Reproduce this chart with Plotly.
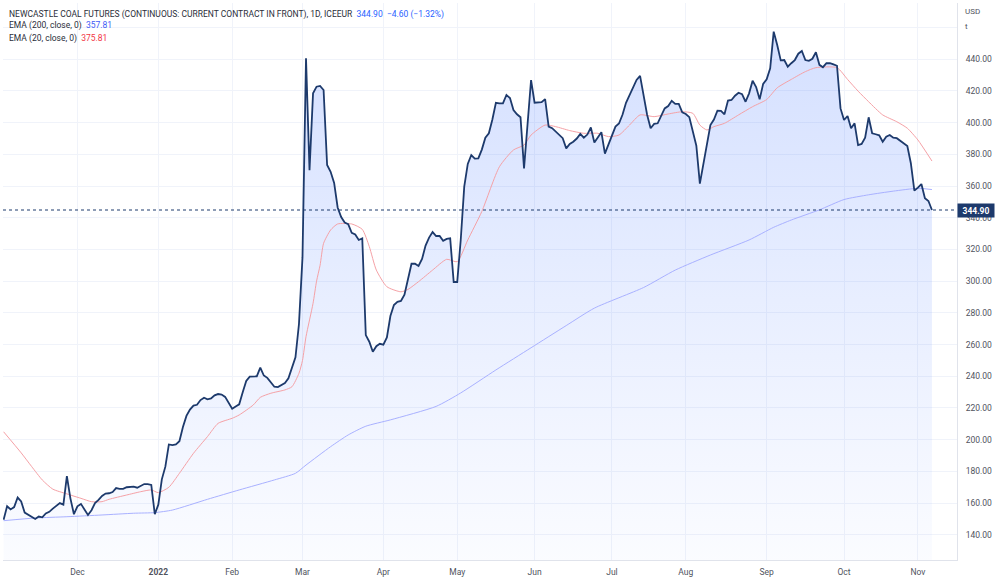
import plotly.graph_objects as go
import pandas as pd

# ---------------- data ----------------
start_date = "2021-11-02"
end_date = "2022-11-07"

close_nov21 = [149.5, 158, 156, 157.5, 163.5, 161, 154, 152.5, 151, 150, 151.5, 151, 153.5, 154.5,
               156.5, 158.5, 160, 159, 177, 163, 153]
close_dec21 = [158, 159.5, 156, 152.5, 155.5, 160, 162, 164.5, 166, 166.2, 167, 169.5, 169, 169, 170,
               170.4, 170.4, 169.7, 171, 172, 172, 171.5, 153]
close_jan22 = [159, 175, 183, 197, 196.6, 197, 199, 208, 215, 219, 221.5, 222, 225, 226.5, 225.5, 226,
               228, 228.8, 228.5, 227, 223]
close_feb22 = [219.5, 221, 222.3, 230, 237, 239.8, 239.8, 240, 245.5, 240.5, 239, 236, 233.4, 233.2,
               234.5, 235.7, 238.7, 245, 252, 273]
close_mar22 = [315, 440.6, 370, 418.5, 422.7, 423.2, 420.6, 373.3, 369, 362, 346.5, 340.5, 337, 336,
               330.5, 329.5, 326, 327, 266, 261.8, 255.5, 259, 260.5]
close_apr22 = [260, 264.5, 278, 285, 287, 287.5, 291.5, 302, 311, 311, 309.6, 314, 322.5, 327.5, 331,
               328.5, 328.5, 325.5, 326.7, 327, 299.5]
close_may22 = [299.5, 326, 359.6, 374, 379.6, 377.3, 377.5, 383, 390.5, 393.3, 402, 412.5, 412.2, 412.2,
               417.5, 415.5, 408, 405.3, 403.4, 371.2, 399, 426.9]
close_jun22 = [412.6, 412.6, 412.9, 414.9, 397.5, 396.5, 394.5, 392.3, 390.2, 383.8, 386.6, 388, 390,
               392.9, 390.5, 392.5, 397, 387.5, 391, 394, 380.5, 386]
close_jul22 = [391, 397.5, 399.5, 405, 412.5, 417, 422.5, 427, 429.5, 416.5, 405, 396.5, 399.2, 399.6,
               404, 409, 410.5, 413.8, 411.8, 411.8, 406.5]
close_aug22 = [405.5, 403.5, 394, 385.5, 361.5, 373, 386, 398.5, 402, 407.6, 407.5, 405.3, 413.9, 414.3,
               417, 418.9, 418, 413.2, 418.5, 426.5, 422.5, 414.7, 424.5]
close_sep22 = [427.4, 434.3, 457.4, 449, 439.3, 439.5, 435.3, 437.5, 439.5, 443.5, 445.2, 439.5, 439,
               440.3, 444.4, 436.5, 435, 437.5, 437.6, 436.8, 435.9, 409]
close_oct22 = [401.7, 404.2, 396.5, 399.6, 385.9, 386.6, 390.5, 403.4, 393.3, 392.7, 392, 388, 391.2,
               392.2, 390.5, 390.2, 388.4, 386.6, 385.3, 374.4, 357.1]
close_nov22 = [359, 361.3, 352.3, 350.6, 344.9]

# EMA lines read at selected bars (bar index into the trading-day list)
ema20_idx = [0, 5, 8, 11, 14, 18, 22, 25, 28, 30, 35, 39, 42, 44, 47, 50, 54, 58, 61, 65,
             67, 71, 73, 76, 80, 82, 84, 85, 86, 88, 89, 90, 91, 93, 95, 99, 102, 104, 106, 109,
             113, 115, 118, 122, 126, 129, 132, 136, 141, 145, 148, 150, 154, 157, 161, 165, 169, 172, 175, 178,
             181, 185, 189, 193, 196, 198, 200, 202, 205, 209, 213, 217, 220, 224, 228, 231, 237, 240, 243, 246,
             250, 254, 257, 260, 264]
ema20_val = [205, 191.7, 183, 174.6, 168.8, 165.8, 163, 160.9, 160.9, 162.4, 165.1, 167.2, 168.3, 166.6, 170,
             178.8, 191.4, 202, 210.3, 213.5, 215.6, 221.9, 226.7, 229.3, 231.4, 233.4, 241.9, 250, 265, 286,
             300, 310, 323.9, 332.3, 336.1, 336.1, 332.7, 321.8, 307, 296.5, 293.3, 294.8, 299.7, 307, 313.8,
             312.3, 326, 344, 372.2, 382.8, 385.9, 392.2, 398.5, 397.5, 395, 393.3, 393.3, 391.2, 392.2, 398.5,
             404.9, 403.8, 405.5, 406.9, 405.9, 398.5, 395.4, 397.5, 399.6, 404.9, 410.1, 414.6, 422, 427.3,
             432.2, 434.7, 434.7, 427.3, 419.9, 413.2, 404.9, 400.6, 396.5, 389.1, 375.81]

ema200_idx = [0, 9, 18, 28, 37, 43, 48, 58, 67, 77, 83, 86, 93, 98, 103, 110, 123, 130, 140, 150,
              160, 168, 182, 191, 201, 212, 219, 224, 232, 239, 246, 253, 260, 264]
ema200_val = [148.9, 150.6, 151.4, 152.5, 153.6, 154, 155.6, 162.4, 168.3, 174.6, 178.8, 184, 195.6, 203,
              208.5, 212.5, 221, 229.5, 244, 258, 272, 283, 296, 307, 316.5, 326, 334, 338.6, 345, 351.5,
              354.5, 356.8, 358.6, 357.81]

month_tick_dates = ["2021-12-01", "2022-01-03", "2022-02-01", "2022-03-01", "2022-04-01", "2022-05-02",
                    "2022-06-01", "2022-07-01", "2022-08-01", "2022-09-01", "2022-10-03", "2022-11-01"]
month_tick_text = ["Dec", "<b>2022</b>", "Feb", "Mar", "Apr", "May", "Jun", "Jul", "Aug", "Sep", "Oct", "Nov"]

price_ticks = [140, 160, 180, 200, 220, 240, 260, 280, 300, 320, 340, 360, 380, 400, 420, 440, 460]

title_text = "NEWCASTLE COAL FUTURES (CONTINUOUS: CURRENT CONTRACT IN FRONT), 1D, ICEEUR"
change_text = "344.90  \u22124.60 (\u22121.32%)"

# ---------------- build ----------------
dates = pd.bdate_range(start_date, end_date)
close = (close_nov21 + close_dec21 + close_jan22 + close_feb22 + close_mar22 + close_apr22 + close_may22
         + close_jun22 + close_jul22 + close_aug22 + close_sep22 + close_oct22 + close_nov22)
n = min(len(dates), len(close))
dates = dates[:n]
close = close[:n]
last = close[-1]

W, H = 1000, 585
ML, MR, MT, MB = 3, 43, 3, 25
PW, PH = W - ML - MR, H - MT - MB


def px_x(px):
    return (px - ML) / PW


def px_y(py):
    return 1 - (py - MT) / PH


FONT = "Roboto, 'Liberation Sans', Arial, sans-serif"
NAVY = "#1d3a6c"

fig = go.Figure()

# filled area under the price
fig.add_trace(go.Scatter(
    x=dates, y=close, mode="lines", line=dict(width=0, color="rgba(0,0,0,0)"),
    fill="tozeroy",
    fillgradient=dict(type="vertical",
                      colorscale=[[0, "rgba(41,98,255,0.02)"], [1, "rgba(41,98,255,0.20)"]],
                      start=124, stop=460),
    hoverinfo="skip", showlegend=False))

# EMA 200
fig.add_trace(go.Scatter(
    x=[dates[i] for i in ema200_idx], y=ema200_val, mode="lines",
    line=dict(color="#a9b1ff", width=1, shape="spline", smoothing=0.6),
    name="EMA (200, close, 0)", showlegend=False))

# EMA 20
fig.add_trace(go.Scatter(
    x=[dates[i] for i in ema20_idx], y=ema20_val, mode="lines",
    line=dict(color="#f5a1a6", width=1, shape="spline", smoothing=0.6),
    name="EMA (20, close, 0)", showlegend=False))

# price line
fig.add_trace(go.Scatter(
    x=dates, y=close, mode="lines", line=dict(color=NAVY, width=1.8),
    name="Close", showlegend=False))

# last price dotted line
fig.add_shape(type="line", xref="paper", x0=0, x1=1, yref="y", y0=last, y1=last,
              line=dict(color=NAVY, width=1, dash="dot"))

fig.update_xaxes(
    type="date",
    rangebreaks=[dict(bounds=["sat", "mon"])],
    range=["2021-11-01 20:00", "2022-11-16 03:00"],
    tickvals=month_tick_dates, ticktext=month_tick_text,
    tickfont=dict(family=FONT, size=8.5, color="#50535e"),
    ticks="", showgrid=True, gridcolor="#f0f3fa", gridwidth=1,
    showline=True, linecolor="#e0e3eb", linewidth=1, zeroline=False,
    ticklabelstandoff=4,
)

fig.update_yaxes(
    side="right", range=[124.1, 475.5],
    tickvals=price_ticks,
    ticktext=[("" if v == 460 else f"{v:.2f}") for v in price_ticks],
    tickfont=dict(family=FONT, size=8.5, color="#50535e"),
    ticks="", showgrid=True, gridcolor="#f0f3fa", gridwidth=1,
    showline=True, linecolor="#e0e3eb", linewidth=1, zeroline=False,
    ticklabelstandoff=6,
)

annotations = [
    dict(xref="paper", yref="paper", x=px_x(7), y=px_y(14), xanchor="left", yanchor="middle",
         showarrow=False, align="left",
         text=f"{title_text}  <span style='color:#2962ff'>{change_text}</span>",
         font=dict(family=FONT, size=8.5, color="#2a2e39")),
    dict(xref="paper", yref="paper", x=px_x(7), y=px_y(26), xanchor="left", yanchor="middle",
         showarrow=False, align="left",
         text=f"EMA (200, close, 0)  <span style='color:#3f5bf6'>{ema200_val[-1]:.2f}</span>",
         font=dict(family=FONT, size=8.5, color="#2a2e39")),
    dict(xref="paper", yref="paper", x=px_x(7), y=px_y(38), xanchor="left", yanchor="middle",
         showarrow=False, align="left",
         text=f"EMA (20, close, 0)  <span style='color:#f23645'>{ema20_val[-1]:.2f}</span>",
         font=dict(family=FONT, size=8.5, color="#2a2e39")),
    dict(xref="paper", yref="paper", x=1, xshift=6, y=px_y(12), xanchor="left", yanchor="middle",
         showarrow=False, text="USD", font=dict(family=FONT, size=8, color="#50535e")),
    dict(xref="paper", yref="paper", x=1, xshift=6, y=px_y(27), xanchor="left", yanchor="middle",
         showarrow=False, text="t", font=dict(family=FONT, size=8, color="#50535e")),
    dict(xref="paper", yref="y", x=1, y=last, xanchor="left", yanchor="middle",
         showarrow=False, text=f"<b>{last:.2f}</b>", bgcolor=NAVY, borderpad=1,
         width=34, height=11, align="center",
         font=dict(family=FONT, size=8.5, color="white")),
]

fig.update_layout(
    width=W, height=H,
    margin=dict(l=ML, r=MR, t=MT, b=MB),
    paper_bgcolor="white", plot_bgcolor="white",
    showlegend=False,
    font=dict(family=FONT),
    annotations=annotations,
    hovermode="x",
)

fig.write_html("out.html")
